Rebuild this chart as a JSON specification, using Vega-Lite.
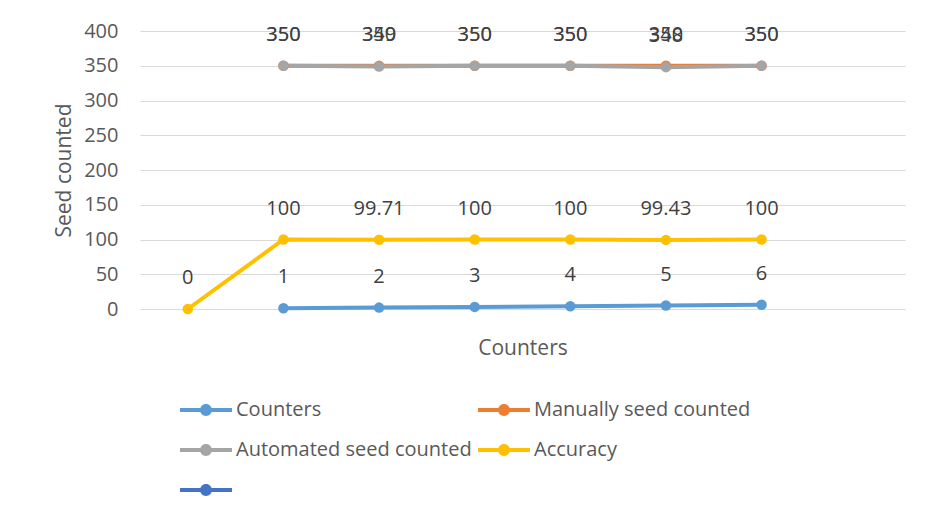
{
  "$schema": "https://vega.github.io/schema/vega-lite/v6.json",
  "width": 765,
  "height": 278,
  "autosize": {"type": "none"},
  "padding": {"left": 140, "top": 31, "right": 22, "bottom": 208},
  "background": "white",
  "config": {"view": {"stroke": null}, "font": "Open Sans"},
  "data": {
    "values": [
      {"x": 1, "series": "Counters", "value": 1},
      {"x": 2, "series": "Counters", "value": 2},
      {"x": 3, "series": "Counters", "value": 3},
      {"x": 4, "series": "Counters", "value": 4},
      {"x": 5, "series": "Counters", "value": 5},
      {"x": 6, "series": "Counters", "value": 6},
      {"x": 1, "series": "Manually seed counted", "value": 350},
      {"x": 2, "series": "Manually seed counted", "value": 350},
      {"x": 3, "series": "Manually seed counted", "value": 350},
      {"x": 4, "series": "Manually seed counted", "value": 350},
      {"x": 5, "series": "Manually seed counted", "value": 350},
      {"x": 6, "series": "Manually seed counted", "value": 350},
      {"x": 1, "series": "Automated seed counted", "value": 350},
      {"x": 2, "series": "Automated seed counted", "value": 349},
      {"x": 3, "series": "Automated seed counted", "value": 350},
      {"x": 4, "series": "Automated seed counted", "value": 350},
      {"x": 5, "series": "Automated seed counted", "value": 348},
      {"x": 6, "series": "Automated seed counted", "value": 350},
      {"x": 0, "series": "Accuracy", "value": 0},
      {"x": 1, "series": "Accuracy", "value": 100},
      {"x": 2, "series": "Accuracy", "value": 99.71},
      {"x": 3, "series": "Accuracy", "value": 100},
      {"x": 4, "series": "Accuracy", "value": 100},
      {"x": 5, "series": "Accuracy", "value": 99.43},
      {"x": 6, "series": "Accuracy", "value": 100}
    ]
  },
  "encoding": {
    "x": {
      "field": "x",
      "type": "quantitative",
      "scale": {"domain": [-0.5, 7.5], "nice": false, "zero": false},
      "axis": {
        "title": "Counters",
        "labels": false,
        "ticks": false,
        "domain": false,
        "grid": false,
        "titleFont": "Open Sans",
        "titleFontSize": 21,
        "titleFontWeight": "normal",
        "titleColor": "#595959",
        "titlePadding": 28
      }
    },
    "y": {
      "field": "value",
      "type": "quantitative",
      "scale": {"domain": [0, 400], "nice": false},
      "axis": {
        "title": "Seed counted",
        "values": [0, 50, 100, 150, 200, 250, 300, 350, 400],
        "ticks": false,
        "domain": false,
        "grid": true,
        "gridColor": "#d9d9d9",
        "gridWidth": 1,
        "labelFont": "Open Sans",
        "labelFontSize": 20,
        "labelColor": "#595959",
        "labelPadding": 22,
        "titleFont": "Open Sans",
        "titleFontSize": 21,
        "titleFontWeight": "normal",
        "titleColor": "#595959",
        "titlePadding": 9
      }
    },
    "color": {
      "field": "series",
      "type": "nominal",
      "scale": {
        "domain": ["Counters", "Manually seed counted", "Automated seed counted", "Accuracy", " "],
        "range": ["#5B9BD5", "#ED7D31", "#A5A5A5", "#FFC000", "#4472C4"]
      },
      "legend": {
        "orient": "none",
        "legendX": 40,
        "legendY": 353,
        "columns": 2,
        "direction": "horizontal",
        "title": null,
        "labelFont": "Open Sans",
        "labelFontSize": 20,
        "labelColor": "#595959",
        "labelOffset": 4,
        "labelLimit": 500,
        "symbolType": "M-1,-0.075H1V0.075H-1Z M-0.23,0A0.23,0.23 0 1,1 0.23,0A0.23,0.23 0 1,1 -0.23,0Z",
        "symbolSize": 2704,
        "symbolStrokeWidth": 0,
        "rowPadding": 4,
        "columnPadding": 6,
        "encode": {
          "symbols": {
            "update": {
              "fill": {"scale": "color", "field": "value"},
              "fillOpacity": {"value": 1},
              "strokeWidth": {"value": 0}
            }
          }
        }
      }
    }
  },
  "layer": [
    {"mark": {"type": "line", "strokeWidth": 4}},
    {"mark": {"type": "point", "filled": true, "size": 110, "opacity": 1}},
    {
      "mark": {"type": "text", "dy": -31, "fontSize": 20, "font": "Open Sans", "baseline": "middle"},
      "encoding": {
        "text": {"field": "value", "type": "nominal"},
        "color": {"value": "#404040"}
      }
    }
  ]
}
